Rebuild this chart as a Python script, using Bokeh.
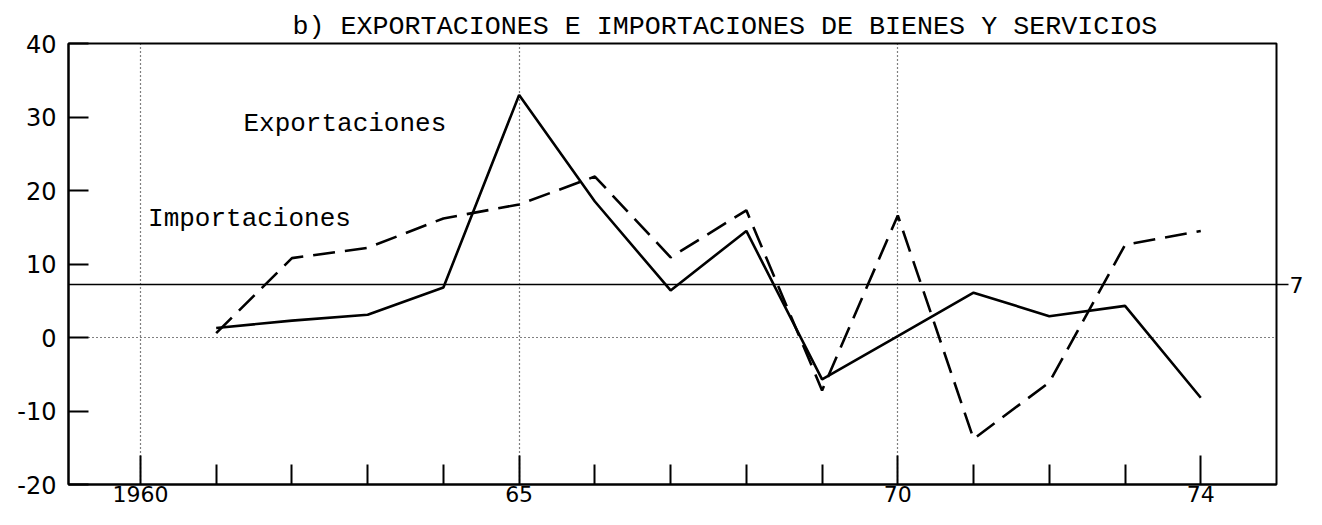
from bokeh.plotting import figure
from bokeh.models import Range1d, FixedTicker, Span, Label, LinearAxis
from bokeh.embed import file_html
from bokeh.resources import INLINE

# ---- data ----
years = [1961, 1962, 1963, 1964, 1965, 1966, 1967, 1968, 1969, 1970, 1971, 1972, 1973, 1974]
exportaciones = [1.3, 2.3, 3.1, 6.8, 33.0, 18.5, 6.4, 14.5, -5.7, 0.2, 6.1, 2.9, 4.3, -8.2]
importaciones = [0.6, 10.8, 12.2, 16.2, 18.1, 21.9, 10.9, 17.3, -7.2, 16.6, -13.8, -6.1, 12.6, 14.5]
reference_level = 7.2
reference_label = "7"
x_major = [1960, 1965, 1970, 1974]
x_major_labels = ["1960", "65", "70", "74"]
x_minor = [1961, 1962, 1963, 1964, 1966, 1967, 1968, 1969, 1971, 1972, 1973]
x_grid = [1960, 1965, 1970]
y_ticks = [-20, -10, 0, 10, 20, 30, 40]
y_tick_labels = ["-20", "-10", "0", "10", "20", "30", "40"]
title_text = "b) EXPORTACIONES E IMPORTACIONES DE BIENES Y SERVICIOS"
label_exp = "Exportaciones"
label_imp = "Importaciones"

MONO = "Liberation Mono"
NUM = "DejaVu Sans"

p = figure(width=1306, height=509,
           x_range=Range1d(1959.05, 1975.0), y_range=Range1d(-20, 40),
           output_backend="svg", toolbar_location=None,
           min_border_left=68, min_border_right=28,
           min_border_top=43, min_border_bottom=25)
p.background_fill_color = "white"
p.border_fill_color = "white"
p.outline_line_color = "black"
p.outline_line_width = 2

# title
p.title.text = title_text
p.title.text_font = MONO
p.title.text_font_size = "26.7px"
p.title.text_font_style = "normal"
p.title.text_color = "black"
p.title.align = "left"
p.title.offset = 224
p.title.standoff = 3

# x axis
xa = p.xaxis[0]
xa.ticker = FixedTicker(ticks=x_major, minor_ticks=x_minor)
xa.major_label_overrides = {t: l for t, l in zip(x_major, x_major_labels)}
xa.major_tick_in = 29
xa.major_tick_out = 0
xa.minor_tick_in = 20
xa.minor_tick_out = 0
xa.major_tick_line_width = 2
xa.minor_tick_line_width = 2
xa.axis_line_width = 2
xa.major_label_standoff = 1
xa.major_label_text_font = NUM
xa.major_label_text_font_size = "22px"
xa.major_label_text_color = "black"

# y axis
ya = p.yaxis[0]
ya.ticker = FixedTicker(ticks=y_ticks, minor_ticks=[])
ya.major_label_overrides = {t: l for t, l in zip(y_ticks, y_tick_labels)}
ya.major_tick_in = 20
ya.major_tick_out = 0
ya.major_tick_line_width = 2
ya.axis_line_width = 2
ya.major_label_standoff = 12
ya.major_label_text_font = NUM
ya.major_label_text_font_size = "24px"
ya.major_label_text_color = "black"

# right axis carrying the reference level label
ra = LinearAxis(ticker=FixedTicker(ticks=[reference_level], minor_ticks=[]),
                major_label_overrides={reference_level: reference_label})
ra.axis_line_color = None
ra.major_tick_in = 0
ra.major_tick_out = 12
ra.major_tick_line_width = 1.5
ra.major_label_standoff = 1
ra.major_label_text_font = NUM
ra.major_label_text_font_size = "22px"
ra.major_label_text_color = "black"
p.add_layout(ra, "right")

# grids
p.xgrid.ticker = FixedTicker(ticks=x_grid)
p.xgrid.grid_line_color = "black"
p.xgrid.grid_line_dash = "1 3"
p.xgrid.grid_line_width = 1.2
p.ygrid.ticker = FixedTicker(ticks=[0])
p.ygrid.grid_line_color = "black"
p.ygrid.grid_line_dash = "1 3"
p.ygrid.grid_line_width = 1.2

# reference level line
p.add_layout(Span(location=reference_level, dimension="width",
                  line_color="black", line_width=1.5))

# series
p.line(years, exportaciones, line_color="black", line_width=2.6)
p.line(years, importaciones, line_color="black", line_width=2.6, line_dash="22 10")

# in-plot labels
p.add_layout(Label(x=1961.36, y=29.1, text=label_exp, text_font=MONO,
                   text_font_size="26px", text_baseline="middle", text_align="left",
                   text_color="black"))
p.add_layout(Label(x=1960.1, y=16.1, text=label_imp, text_font=MONO,
                   text_font_size="26px", text_baseline="middle", text_align="left",
                   text_color="black"))

open("out.html", "w").write(file_html(p, INLINE))
